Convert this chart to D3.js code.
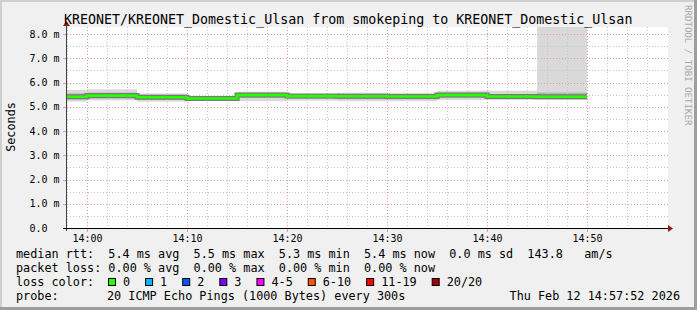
<!DOCTYPE html>
<html>
<head>
<meta charset="utf-8">
<script src="https://cdn.jsdelivr.net/npm/d3@7"></script>
<style>
  body { margin: 0; background: #f0f0f0; }
  text { font-family: "DejaVu Sans Mono", monospace; }
</style>
</head>
<body>
<div id="chart"></div>
<script>
// chart values
const title = "KREONET/KREONET_Domestic_Ulsan from smokeping to KREONET_Domestic_Ulsan";
const day = "2026-02-12";
const viewStart = "13:58";
const viewEnd = "14:58";
const segStart = ["13:55", "14:00", "14:05", "14:10", "14:15", "14:20", "14:25", "14:30", "14:35", "14:40", "14:45"];
const segEnd = "14:50";

// median rtt per 5 min step (ms)
const median = [5.41, 5.46, 5.39, 5.34, 5.48, 5.44, 5.43, 5.42, 5.48, 5.42, 5.41];
// smoke: spread of the 20 pings (ms)
const smokeMin = [5.21, 5.26, 5.21, 5.25, 5.23, 5.25, 5.23, 5.23, 5.28, 5.28, 5.28];
const smokeLo  = [5.30, 5.33, 5.28, 5.30, 5.36, 5.33, 5.31, 5.31, 5.36, 5.33, 5.33];
const smokeHi  = [5.55, 5.58, 5.49, 5.40, 5.56, 5.49, 5.52, 5.52, 5.58, 5.52, 5.58];
const smokeMax = [5.69, 5.72, 5.55, 5.44, 5.62, 5.53, 5.58, 5.58, 5.66, 5.66, 9.50];

const yTicks = [0, 1, 2, 3, 4, 5, 6, 7, 8];

const lossLabels = ["0", "1", "2", "3", "4-5", "6-10", "11-19", "20/20"];
const lossColors = ["#26ff00", "#00b8ff", "#0059ff", "#7e00ff", "#ff00ff", "#ff5500", "#ff0000", "#a00000"];

const legendRows = [
    "median rtt:  5.4 ms avg  5.5 ms max  5.3 ms min  5.4 ms now  0.0 ms sd  143.8   am/s",
    "packet loss: 0.00 % avg  0.00 % max  0.00 % min  0.00 % now"
];
const probeText = "20 ICMP Echo Pings (1000 Bytes) every 300s";
const stamp = "Thu Feb 12 14:57:52 2026";

const W = 697, H = 310;
const pLeft = 67, pRight = 667, pTop = 27, pBottom = 228;

const parse = d3.timeParse("%Y-%m-%d %H:%M");
const t = s => parse(day + " " + s);

const svg = d3.select("#chart")
    .append("svg")
    .attr("width", W)
    .attr("height", H);

// canvas + shading frame
svg.append("rect").attr("width", W).attr("height", H).attr("fill", "#f0f0f0");
svg.append("rect").attr("x", 0).attr("y", 0).attr("width", W).attr("height", 2).attr("fill", "#cfcfcf");
svg.append("rect").attr("x", 0).attr("y", 0).attr("width", 2).attr("height", H).attr("fill", "#cfcfcf");
svg.append("rect").attr("x", W - 3).attr("y", 0).attr("width", 3).attr("height", H).attr("fill", "#9e9e9e");
svg.append("rect").attr("x", 0).attr("y", H - 3).attr("width", W).attr("height", 3).attr("fill", "#9e9e9e");

svg.append("rect")
    .attr("x", pLeft).attr("y", pTop)
    .attr("width", pRight - pLeft + 1).attr("height", pBottom - pTop)
    .attr("fill", "#ffffff");

const x = d3.scaleTime()
    .domain([t(viewStart), t(viewEnd)])
    .range([pLeft, pRight]);

const y = d3.scaleLinear()
    .domain([0, 8])
    .range([pBottom, 34]);

svg.append("clipPath").attr("id", "plot")
    .append("rect")
    .attr("x", pLeft).attr("y", pTop)
    .attr("width", pRight - pLeft + 1).attr("height", pBottom - pTop);

const segs = segStart.map((s, i) => ({
    x0: t(s),
    x1: i < segStart.length - 1 ? t(segStart[i + 1]) : t(segEnd),
    med: median[i], min: smokeMin[i], lo: smokeLo[i], hi: smokeHi[i], max: smokeMax[i]
}));

const g = svg.append("g").attr("clip-path", "url(#plot)");

// smoke
function band(cls, color, lo, hi) {
    g.selectAll("rect." + cls)
        .data(segs)
        .enter()
        .append("rect")
        .attr("class", cls)
        .attr("x", d => x(d.x0))
        .attr("width", d => x(d.x1) - x(d.x0))
        .attr("y", d => Math.max(pTop, y(d[hi])))
        .attr("height", d => y(d[lo]) - Math.max(pTop, y(d[hi])))
        .attr("fill", color);
}
band("outer", "#d9d9d9", "min", "max");
band("inner", "#b0b0b0", "lo", "hi");

// grid
const minorX = d3.timeMinute.every(2).range(t(viewStart), t(viewEnd));
const majorX = d3.timeMinute.every(10).range(t(viewStart), t(viewEnd));
const minorY = d3.range(0.5, 8.3, 0.5);

g.selectAll("line.mx")
    .data(minorX)
    .enter()
    .append("line")
    .attr("x1", d => x(d) + 0.5).attr("x2", d => x(d) + 0.5)
    .attr("y1", pTop).attr("y2", pBottom)
    .attr("stroke", "#c8c8c8")
    .attr("stroke-dasharray", "1,2");

g.selectAll("line.my")
    .data(minorY)
    .enter()
    .append("line")
    .attr("x1", pLeft).attr("x2", pRight + 1)
    .attr("y1", d => Math.round(y(d)) + 0.5).attr("y2", d => Math.round(y(d)) + 0.5)
    .attr("stroke", "#c8c8c8")
    .attr("stroke-dasharray", "1,2");

g.selectAll("line.Mx")
    .data(majorX)
    .enter()
    .append("line")
    .attr("x1", d => x(d) + 0.5).attr("x2", d => x(d) + 0.5)
    .attr("y1", pTop).attr("y2", pBottom)
    .attr("stroke", "#e79a9a")
    .attr("stroke-dasharray", "1,2");

g.selectAll("line.My")
    .data(yTicks.filter(d => d > 0))
    .enter()
    .append("line")
    .attr("x1", pLeft).attr("x2", pRight + 1)
    .attr("y1", d => Math.round(y(d)) + 0.5).attr("y2", d => Math.round(y(d)) + 0.5)
    .attr("stroke", "#e79a9a")
    .attr("stroke-dasharray", "1,2");

// median line
const pts = segs.map(d => [d.x0, d.med]).concat([[t(segEnd), median[median.length - 1]]]);
const line = d3.line()
    .x(d => x(d[0]))
    .y(d => y(d[1]))
    .curve(d3.curveStepAfter);

g.append("path").attr("d", line(pts))
    .attr("fill", "none").attr("stroke", "#7a7a7a").attr("stroke-width", 5);
g.append("path").attr("d", line(pts))
    .attr("fill", "none").attr("stroke", lossColors[0]).attr("stroke-width", 2.6);

// axes
svg.append("line")
    .attr("x1", pLeft - 0.5).attr("x2", pLeft - 0.5)
    .attr("y1", pTop - 3).attr("y2", pBottom + 3)
    .attr("stroke", "#404040");
svg.append("line")
    .attr("x1", pLeft - 4).attr("x2", pRight + 3)
    .attr("y1", pBottom + 0.5).attr("y2", pBottom + 0.5)
    .attr("stroke", "#000");
svg.append("path")
    .attr("d", `M${pLeft - 4},${pTop - 1}L${pLeft + 3},${pTop - 1}L${pLeft - 0.5},${pTop - 6}Z`)
    .attr("fill", "#8b1a1a");
svg.append("path")
    .attr("d", `M${pRight + 1},${pBottom - 3}L${pRight + 1},${pBottom + 4}L${pRight + 6},${pBottom + 0.5}Z`)
    .attr("fill", "#8b1a1a");

// y ticks
svg.selectAll("line.yt")
    .data(yTicks)
    .enter()
    .append("line")
    .attr("x1", pLeft - 4).attr("x2", pLeft - 1)
    .attr("y1", d => Math.round(y(d)) + 0.5).attr("y2", d => Math.round(y(d)) + 0.5)
    .attr("stroke", d => d === 0 ? "#000" : "#e79a9a");

svg.selectAll("text.yl")
    .data(yTicks)
    .enter()
    .append("text")
    .attr("x", 29.5)
    .attr("y", d => y(d) + 3.5)
    .attr("font-size", "10px")
    .attr("fill", "#000")
    .text(d => d.toFixed(1) + (d === 0 ? "" : " m"));

// x ticks
svg.selectAll("line.xt")
    .data(majorX)
    .enter()
    .append("line")
    .attr("x1", d => x(d) + 0.5).attr("x2", d => x(d) + 0.5)
    .attr("y1", pBottom + 1).attr("y2", pBottom + 4)
    .attr("stroke", "#e79a9a");

svg.selectAll("text.xl")
    .data(majorX)
    .enter()
    .append("text")
    .attr("x", d => x(d) + 0.5)
    .attr("y", 242)
    .attr("text-anchor", "middle")
    .attr("font-size", "10px")
    .text(d3.timeFormat("%H:%M"));

// titles
svg.append("text")
    .attr("x", 64).attr("y", 23.5)
    .attr("font-size", "13.3px")
    .text(title);

svg.append("text")
    .attr("transform", "translate(15,127) rotate(-90)")
    .attr("text-anchor", "middle")
    .attr("font-size", "11.8px")
    .text("Seconds");

svg.append("text")
    .attr("transform", "translate(685,5) rotate(90)")
    .attr("font-size", "9.1px")
    .attr("fill", "#a8a8a8")
    .text("RRDTOOL / TOBI OETIKER");

// legend
const lg = svg.append("g").attr("font-size", "11.8px").attr("fill", "#000");

lg.selectAll("text.row")
    .data(legendRows)
    .enter()
    .append("text")
    .attr("x", 16)
    .attr("y", (d, i) => 258 + i * 14)
    .attr("xml:space", "preserve")
    .style("white-space", "pre")
    .text(d => d);

lg.append("text").attr("x", 16).attr("y", 286).text("loss color:");

let bx = 108.5;
lossLabels.forEach((lab, i) => {
    lg.append("rect")
        .attr("x", bx).attr("y", 278.5)
        .attr("width", 7).attr("height", 7)
        .attr("fill", lossColors[i])
        .attr("stroke", "#000");
    const tx = lg.append("text")
        .attr("x", bx + 14.5).attr("y", 286)
        .text(lab);
    bx = bx + 14.5 + tx.node().getComputedTextLength() + 15.5;
});

lg.append("text").attr("x", 16).attr("y", 300).text("probe:");
lg.append("text").attr("x", 107).attr("y", 300).text(probeText);
lg.append("text").attr("x", 680).attr("y", 300).attr("text-anchor", "end").text(stamp);
</script>
</body>
</html>
